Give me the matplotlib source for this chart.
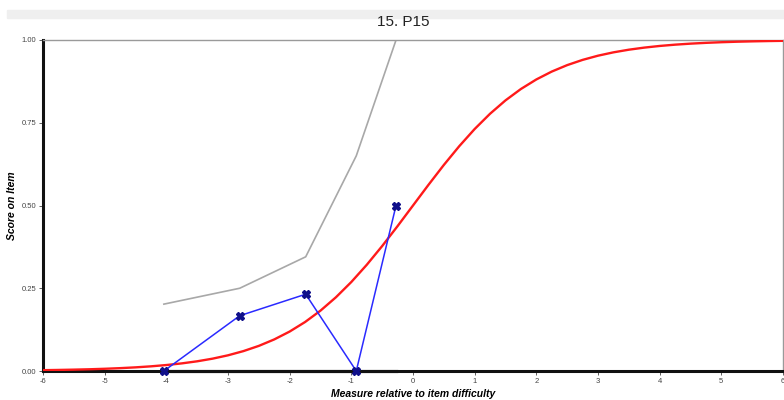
import matplotlib.pyplot as plt
from matplotlib.patches import Rectangle

plt.rcParams['font.family'] = ['Liberation Sans', 'DejaVu Sans']

# observed mean scores per measure group
obs_x = [-4.04, -2.81, -1.74, -0.92, -0.275]
obs_y = [0.0, 0.167, 0.232, 0.0, 0.50]

# confidence band around expected curve
ci_upper = [0.202, 0.25, 0.345, 0.65, 1.0]
ci_lower = [0.0, 0.0, 0.0, 0.0, 0.0]

# model expected score curve, read at quarter-logit steps
model_x = [-6, -5.75, -5.5, -5.25, -5, -4.75, -4.5, -4.25, -4, -3.75, -3.5,
           -3.25, -3, -2.75, -2.5, -2.25, -2, -1.75, -1.5, -1.25, -1, -0.75,
           -0.5, -0.25, 0, 0.25, 0.5, 0.75, 1, 1.25, 1.5, 1.75, 2, 2.25, 2.5,
           2.75, 3, 3.25, 3.5, 3.75, 4, 4.25, 4.5, 4.75, 5, 5.25, 5.5, 5.75, 6]
model_y = [0.0025, 0.0032, 0.0041, 0.0052, 0.0067, 0.0086, 0.0110, 0.0141,
           0.0180, 0.0230, 0.0293, 0.0373, 0.0474, 0.0601, 0.0759, 0.0954,
           0.1192, 0.1480, 0.1824, 0.2227, 0.2689, 0.3208, 0.3775, 0.4378,
           0.5000, 0.5622, 0.6225, 0.6792, 0.7311, 0.7773, 0.8176, 0.8520,
           0.8808, 0.9046, 0.9241, 0.9399, 0.9526, 0.9627, 0.9707, 0.9770,
           0.9820, 0.9859, 0.9890, 0.9914, 0.9933, 0.9948, 0.9959, 0.9968,
           0.9975]

x_ticks = [-6, -5, -4, -3, -2, -1, 0, 1, 2, 3, 4, 5, 6]
y_ticks = [0.0, 0.25, 0.5, 0.75, 1.0]

fig = plt.figure(figsize=(7.84, 4), dpi=100)
# grey header strip
fig.patches.append(Rectangle((7 / 784, 1 - 18 / 400), 777 / 784, 8 / 400,
                             transform=fig.transFigure, color='#efefef', zorder=0))
fig.text(403 / 784, 1 - 22 / 400, "15. P15", ha='center', va='center',
         fontsize=11, color='#222222')

ax = fig.add_axes([43 / 784, 1 - 371 / 400, 740 / 784, 331 / 400])

ax.plot(obs_x, ci_upper, color='#a8a8a8', lw=1.2, zorder=2)
ax.plot(obs_x, ci_lower, color='#b8b8b8', lw=2.5, clip_on=False, zorder=2)
ax.plot(model_x, model_y, color='#ff1a1a', lw=1.7, zorder=3,
        solid_joinstyle='round')
ax.plot(obs_x, obs_y, color='#2a2aff', lw=1.1, zorder=4)
ax.plot(obs_x, obs_y, linestyle='none', marker='X', markersize=5.5,
        color='#10108a', clip_on=False, zorder=5)

ax.set_xlim(-6, 6)
ax.set_ylim(0, 1)
ax.set_xticks(x_ticks)
ax.set_xticklabels([str(t) for t in x_ticks])
ax.set_yticks(y_ticks)
ax.set_yticklabels(['%.2f' % t for t in y_ticks])
ax.tick_params(labelsize=5.5, colors='#444444', length=3, width=0.6, pad=2)

for s in ['left', 'bottom']:
    ax.spines[s].set_color('#111111')
    ax.spines[s].set_linewidth(2.2)
for s in ['top', 'right']:
    ax.spines[s].set_color('#9a9a9a')
    ax.spines[s].set_linewidth(1.0)

ax.set_xlabel("Measure relative to item difficulty", fontsize=7.5,
              fontweight='bold', fontstyle='italic', labelpad=3)
ax.set_ylabel("Score on Item", fontsize=7.5, fontweight='bold',
              fontstyle='italic', labelpad=3)

plt.savefig("out.png", dpi=100)
